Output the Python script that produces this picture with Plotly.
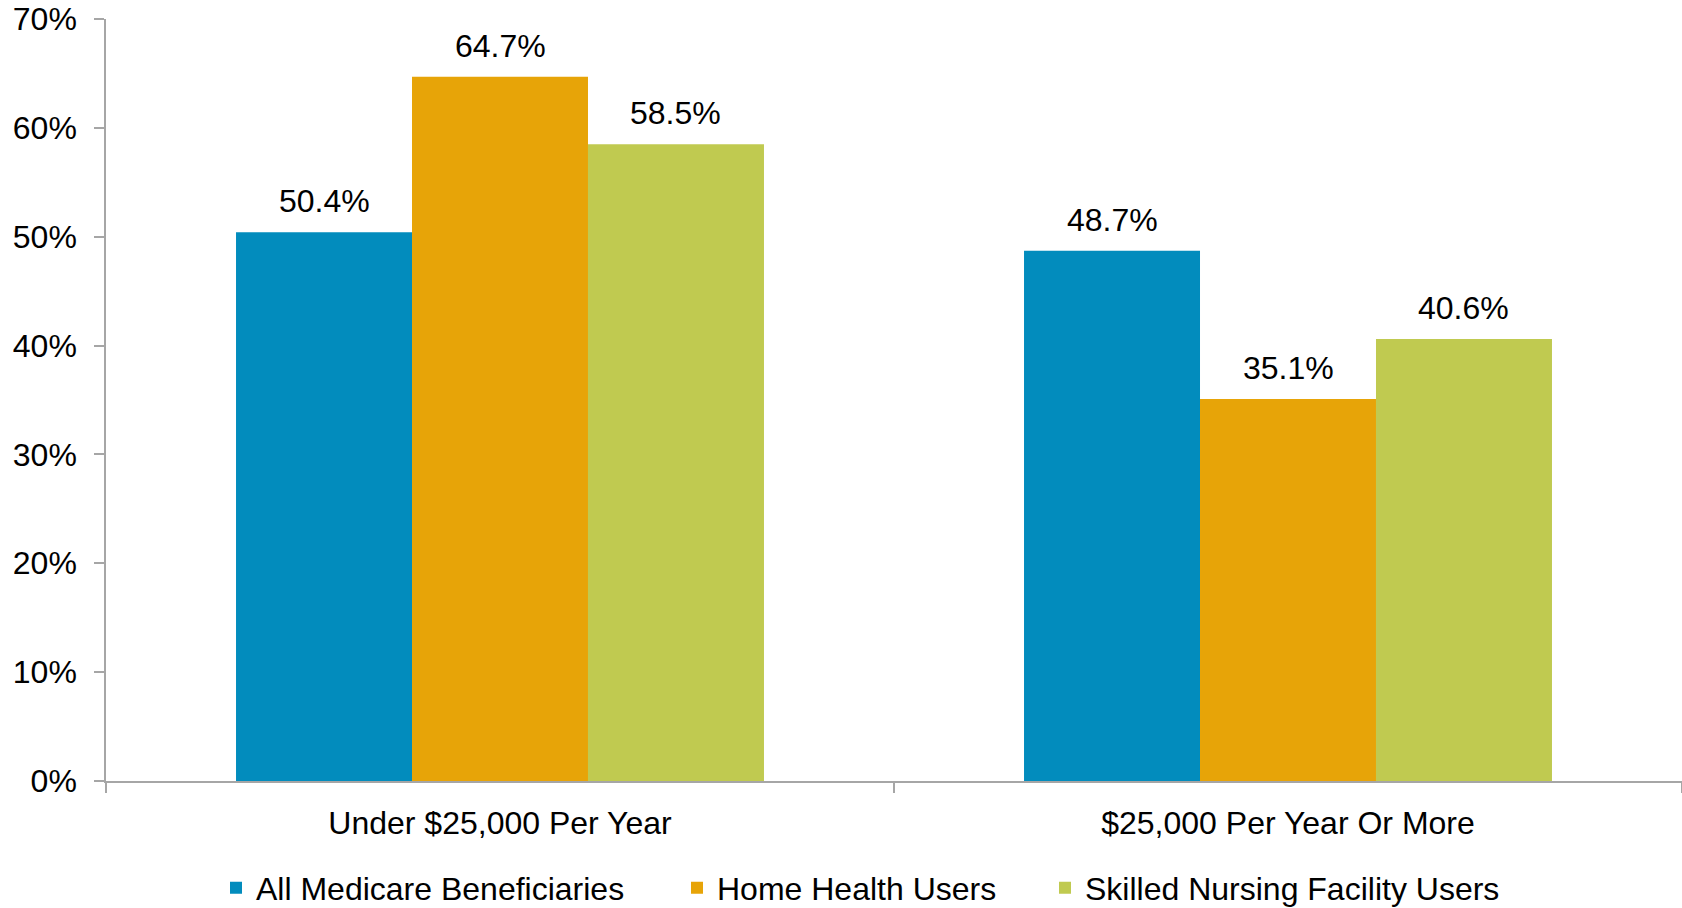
import plotly.graph_objects as go

categories = ["Under $25,000 Per Year", "$25,000 Per Year Or More"]
series_names = ["All Medicare Beneficiaries", "Home Health Users", "Skilled Nursing Facility Users"]
all_medicare = [50.4, 48.7]
home_health = [64.7, 35.1]
snf_users = [58.5, 40.6]
y_ticks = [0, 10, 20, 30, 40, 50, 60, 70]

colors = ["#028CBD", "#E7A408", "#C0CA50"]
values = [all_medicare, home_health, snf_users]

W, H = 1682, 908
ML, MR, MT, MB = 106, 0, 19, 127
BARGAP = 0.33
FONT = "Liberation Sans, Arial, sans-serif"
FS = 32

fig = go.Figure()
legend_ids = ["legend", "legend2", "legend3"]
for i, (name, vals, col) in enumerate(zip(series_names, values, colors)):
    fig.add_trace(go.Bar(
        x=categories, y=vals, name=name,
        marker=dict(color=col, line=dict(width=0)),
        legend=legend_ids[i],
    ))

# data labels as annotations above each bar
cat_w = (W - ML - MR) / len(categories)
bar_w = cat_w * (1 - BARGAP) / len(series_names)
for i, vals in enumerate(values):
    for c, v in zip(categories, vals):
        fig.add_annotation(
            x=c, y=v, text=f"{v:.1f}%", showarrow=False,
            xshift=(i - 1) * bar_w, yshift=31, yanchor="middle",
            font=dict(family=FONT, size=FS, color="#000000"),
        )

legend_common = dict(
    orientation="h", yref="container", xref="container",
    yanchor="middle", xanchor="left", y=1 - 888 / H,
    font=dict(family=FONT, size=FS, color="#000000"),
    bgcolor="rgba(0,0,0,0)", itemwidth=30,
)
lx = [216, 677, 1045]
fig.update_layout(
    legend=dict(x=lx[0] / W, **legend_common),
    legend2=dict(x=lx[1] / W, **legend_common),
    legend3=dict(x=lx[2] / W, **legend_common),
)

fig.update_layout(
    width=W, height=H,
    margin=dict(l=ML, r=MR, t=MT, b=MB, pad=0, autoexpand=False),
    barmode="group", bargap=BARGAP, bargroupgap=0,
    plot_bgcolor="white", paper_bgcolor="white",
    font=dict(family=FONT, size=FS, color="#000000"),
    showlegend=True,
)
fig.update_yaxes(
    range=[0, 70], tickvals=y_ticks, ticktext=[f"{t}%" for t in y_ticks],
    showgrid=False, zeroline=False, automargin=False,
    showline=True, linecolor="#A6A6A6", linewidth=1.5,
    ticks="outside", ticklen=10, tickcolor="#A6A6A6", tickwidth=1.5,
    ticklabelstandoff=11, ticklabeloverflow="allow",
    tickfont=dict(family=FONT, size=FS, color="#000000"),
)
fig.update_xaxes(
    showgrid=False, zeroline=False, automargin=False,
    showline=True, linecolor="#A6A6A6", linewidth=1.5,
    ticks="outside", ticklen=10, tickcolor="#A6A6A6", tickwidth=1.5,
    tickson="boundaries", ticklabelstandoff=13, ticklabeloverflow="allow",
    tickfont=dict(family=FONT, size=FS, color="#000000"),
)

fig.write_html(
    "out.html",
    config={"displayModeBar": False},
    post_script="document.body.style.margin='0';document.body.style.overflow='hidden';",
)
